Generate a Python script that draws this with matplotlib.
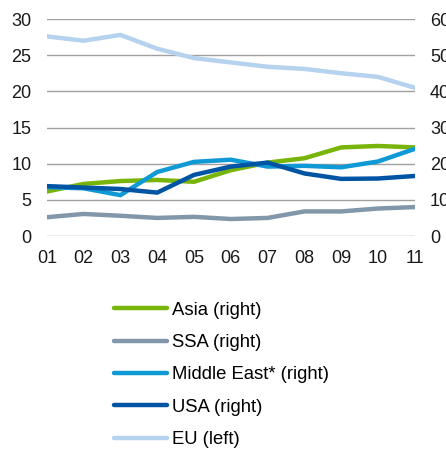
import matplotlib.pyplot as plt

plt.rcParams['font.family'] = ['Liberation Sans', 'DejaVu Sans']

years = ["01", "02", "03", "04", "05", "06", "07", "08", "09", "10", "11"]

# right-axis series
asia = [12.3, 14.4, 15.2, 15.5, 15.0, 18.2, 20.3, 21.5, 24.5, 24.9, 24.5]
ssa = [5.2, 6.1, 5.6, 5.0, 5.3, 4.7, 5.0, 6.8, 6.8, 7.6, 8.0]
middle_east = [13.5, 13.2, 11.3, 17.7, 20.5, 21.1, 19.2, 19.4, 19.0, 20.6, 24.1]
usa = [13.8, 13.4, 13.0, 12.0, 16.9, 19.2, 20.3, 17.3, 15.8, 15.9, 16.6]
# left-axis series
eu = [27.6, 27.0, 27.8, 25.9, 24.6, 24.0, 23.4, 23.1, 22.5, 22.0, 20.5]

labels = ["Asia (right)", "SSA (right)", "Middle East* (right)", "USA (right)", "EU (left)"]
colors = ["#78b40a", "#8297aa", "#0f9ad6", "#0054a4", "#b5d2ef"]

fig = plt.figure(figsize=(4.46, 4.53), dpi=100)
ax = fig.add_axes([0.105, 0.479, 0.825, 0.479])
ax2 = ax.twinx()

x = list(range(len(years)))
lw = 3.2

ax.set_ylim(0, 30)
ax2.set_ylim(0, 60)
ax.set_xlim(0, len(years) - 1)
ax.set_yticks(range(0, 31, 5))
ax2.set_yticks(range(0, 61, 10))
ax.set_xticks(x)
ax.set_xticklabels(years)

ax.grid(axis="y", color="#a0a0a0", linewidth=1.0)
ax.set_axisbelow(True)
for a in (ax, ax2):
    for s in a.spines.values():
        s.set_visible(False)
    a.tick_params(length=0, labelsize=13, colors="#1a1a1a")
ax.tick_params(axis="y", pad=11)
ax.tick_params(axis="x", pad=10)
ax2.tick_params(axis="y", pad=11)

handles = []
h_eu, = ax.plot(x, eu, color=colors[4], linewidth=lw, solid_capstyle="round")
for series, c in zip([asia, ssa, middle_east, usa], colors[:4]):
    h, = ax2.plot(x, series, color=c, linewidth=lw, solid_capstyle="round")
    handles.append(h)
handles.append(h_eu)

fig.legend(handles, labels, loc="upper left", bbox_to_anchor=(0.255, 0.334),
           frameon=False, fontsize=13.3, handlelength=2.9, handletextpad=0.28,
           labelspacing=0.83, borderaxespad=0, borderpad=0)

plt.savefig("out.png", dpi=100)
